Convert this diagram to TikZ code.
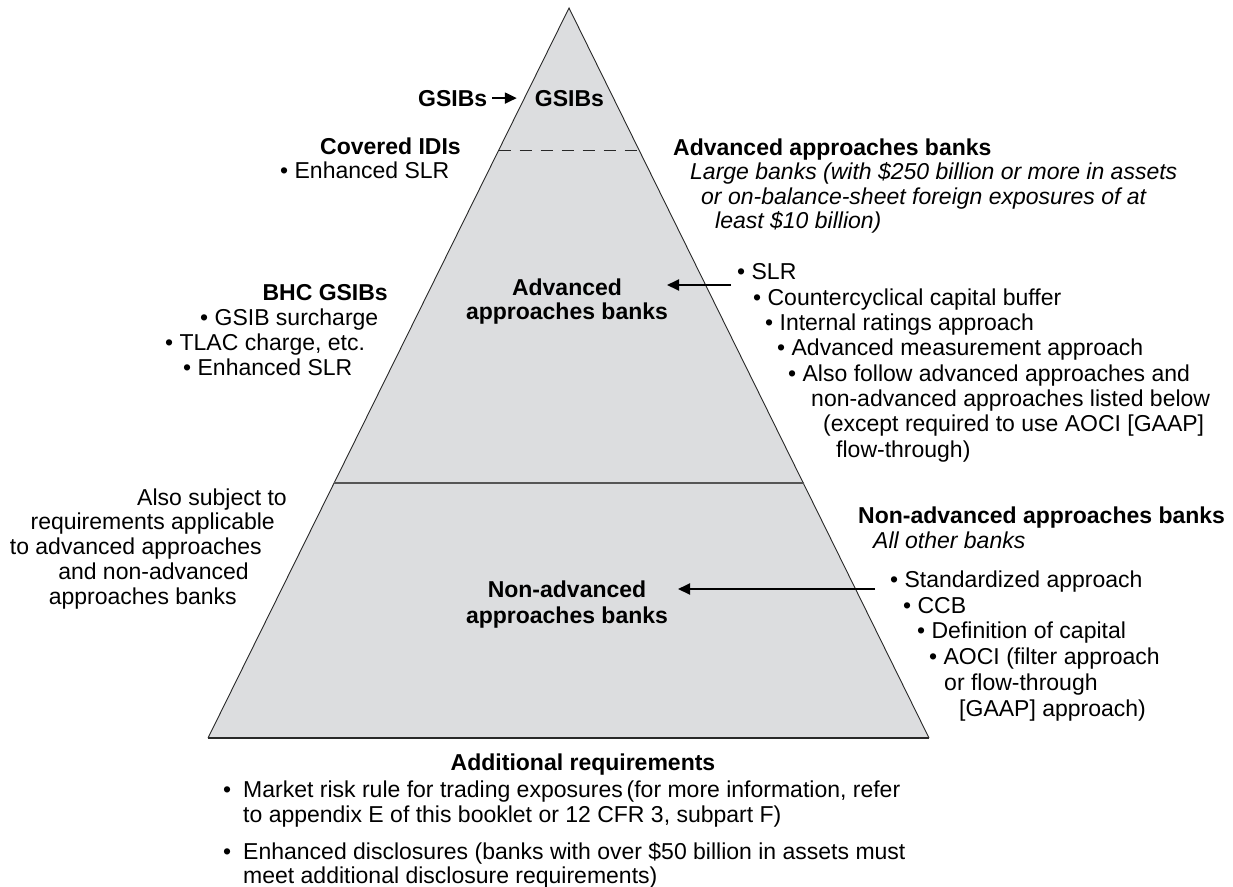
\documentclass[tikz,border=0pt]{standalone}
\usepackage{fontspec}
\setmainfont{Liberation Sans}
\usetikzlibrary{arrows.meta}
\definecolor{trifill}{RGB}{220,221,223}
\definecolor{edgecol}{RGB}{40,40,40}
\definecolor{midcol}{RGB}{85,85,85}
\begin{document}
\begin{tikzpicture}[x=1pt,y=-1pt,
  txt/.style={inner sep=0pt, anchor=base west, font=\fontsize{23}{25}\selectfont},
  txtr/.style={txt, anchor=base east},
  txtc/.style={txt, anchor=base},
  hdr/.style={txt, font=\fontsize{23}{25}\selectfont\bfseries},
  hdrr/.style={hdr, anchor=base east},
  hdrc/.style={hdr, anchor=base},
  ital/.style={txt, font=\fontsize{23}{25}\selectfont\itshape},
  arr/.style={line width=2pt, -{Triangle[length=12pt,width=11pt]}},
  edge/.style={draw=edgecol, line width=0.9pt}
]
\useasboundingbox (0,0) rectangle (1233,886);

% pyramid
\coordinate (apex) at (569,8);
\coordinate (bl) at (208,738);
\coordinate (br) at (929,738);
\fill[trifill] (apex) -- (bl) -- (br) -- cycle;
\draw[edge] (bl) -- (apex) -- (br);
\draw[edge, line width=1.2pt] (bl) -- (br);
\coordinate (dl) at (498.7,150);
\coordinate (dr) at (639.3,150);
\draw[edgecol, line width=0.9pt, dash pattern=on 12pt off 9pt] (dl) -- (dr);
\coordinate (ml) at (334,483);
\coordinate (mr) at (804,483);
\draw[midcol, line width=1.6pt] (ml) -- (mr);

% top
\node[hdr] (gsibL) at (418,106) {GSIBs};
\node[hdrc] (gsibI) at (569.5,106) {GSIBs};
\draw[arr, shorten <=5pt, shorten >=18pt] (gsibL.east) -- (gsibI.west);

\node[hdrr] (cov) at (461,154) {Covered IDIs};
\node[txt] (cov1) at (280,178) {• Enhanced SLR};

\node[hdr] (advH) at (673,155) {Advanced approaches banks};
\node[ital] (advH1) at (690,179) {Large banks (with \$250 billion or more in assets};
\node[ital] (advH2) at (701,204) {or on-balance-sheet foreign exposures of at};
\node[ital] (advH3) at (715,228) {least \$10 billion)};

% advanced tier
\node[hdrc] (advI1) at (567,295) {Advanced};
\node[hdrc] (advI2) at (567,319) {approaches banks};
\coordinate (a2t) at (731,285);
\coordinate (a2h) at (667,285);
\draw[arr] (a2t) -- (a2h);

\node[txt] (l1) at (737,279) {• SLR};
\node[txt] (l2) at (753,305) {• Countercyclical capital buffer};
\node[txt] (l3) at (765,330) {• Internal ratings approach};
\node[txt] (l4) at (777,355) {• Advanced measurement approach};
\node[txt] (l5) at (788,381) {• Also follow advanced approaches and};
\node[txt] (l6) at (811,406) {non-advanced approaches listed below};
\node[txt] (l7) at (823,431) {(except required to use AOCI [GAAP]};
\node[txt] (l8) at (836,457) {flow-through)};

\node[hdrr] (bhc) at (388,300) {BHC GSIBs};
\node[txt] (b1) at (200,325) {• GSIB surcharge};
\node[txt] (b2) at (165,350) {• TLAC charge, etc.};
\node[txt] (b3) at (183,375) {• Enhanced SLR};

% non-advanced tier
\node[txtr] (s1) at (287,505) {Also subject to};
\node[txtr] (s2) at (275,529) {requirements applicable};
\node[txtr] (s3) at (262,554) {to advanced approaches};
\node[txtr] (s4) at (249,579) {and non-advanced};
\node[txtr] (s5) at (237,604) {approaches banks};

\node[hdrc] (nI1) at (567,597) {Non-advanced};
\node[hdrc] (nI2) at (567,623) {approaches banks};
\coordinate (a3t) at (875,589);
\coordinate (a3h) at (678,589);
\draw[arr] (a3t) -- (a3h);

\node[hdr] (nH) at (858,523) {Non-advanced approaches banks};
\node[ital] (nH1) at (873,548) {All other banks};
\node[txt] (n1) at (890,587) {• Standardized approach};
\node[txt] (n2) at (903,613) {• CCB};
\node[txt] (n3) at (917,638) {• Definition of capital};
\node[txt] (n4) at (929,664) {• AOCI (filter approach};
\node[txt] (n5) at (944,690) {or flow-through};
\node[txt] (n6) at (959,716) {[GAAP] approach)};

% additional requirements
\node[hdrc] (addH) at (583,770) {Additional requirements};
\node[txt] (m1) at (223,797) {•\hspace{12pt}Market risk rule for trading exposures\,(for more information, refer};
\node[txt] (m2) at (243,822) {to appendix E of this booklet or 12 CFR 3, subpart F)};
\node[txt] (m3) at (223,859) {•\hspace{12pt}Enhanced disclosures (banks with over \$50 billion in assets must};
\node[txt] (m4) at (243,883) {meet additional disclosure requirements)};
\end{tikzpicture}
\end{document}
